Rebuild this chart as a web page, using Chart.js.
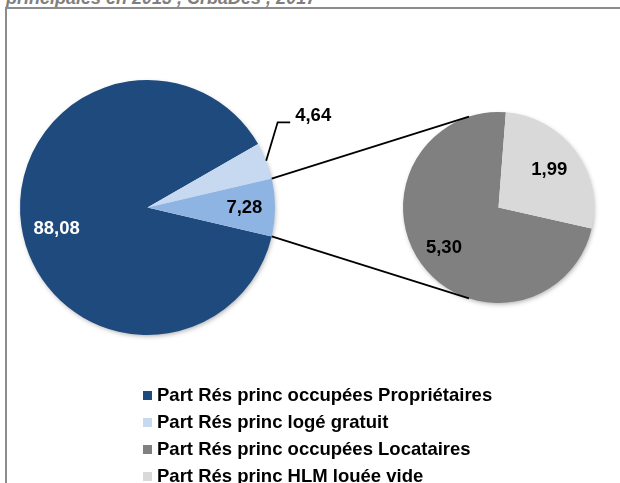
<!DOCTYPE html>
<html>
<head>
<meta charset="utf-8">
<script src="https://cdn.jsdelivr.net/npm/chart.js@4.4.1/dist/chart.umd.min.js"></script>
<style>
  body { margin: 0; background: #fff; overflow: hidden; }
  #wrap { position: relative; width: 620px; height: 483px; overflow: hidden; font-family: "Liberation Sans", Arial, sans-serif; }
  #titre { position: absolute; left: 6px; top: -11px; line-height: 18px; font-size: 18px; font-weight: bold; font-style: italic; color: #7f7f7f; white-space: nowrap; }
  #cadre { position: absolute; left: 5px; top: 7px; width: 700px; height: 600px; border-top: 2px solid #8c8c8c; border-left: 2px solid #8c8c8c; }
  canvas { position: absolute; left: 0; top: 0; }
  #legende { position: absolute; left: 143px; top: 381px; font-size: 18.5px; font-weight: bold; color: #000; }
  #legende div { height: 27px; line-height: 27px; white-space: nowrap; }
  #legende span { display: inline-block; width: 9px; height: 9px; margin-right: 5px; vertical-align: 1px; }
</style>
</head>
<body>
<div id="wrap">
  <div id="titre">principales en 2013 , CrbaDes , 2017</div>
  <div id="cadre"></div>
  <canvas id="pie1" width="620" height="483"></canvas>
  <canvas id="pie2" width="620" height="483"></canvas>
  <div id="legende"></div>
</div>
<script>
// camembert principal : propriétaires, logé gratuit, "autre" (locataires + HLM)
const mainLabels = ["Part Rés princ occupées Propriétaires", "Part Rés princ logé gratuit", "Autre"];
const mainValues = [88.08, 4.64, 7.28];
const mainColors = ["#1f4a7d", "#c6d9f1", "#8db4e2"];

// second camembert : détail de "autre"
const subLabels = ["Part Rés princ occupées Locataires", "Part Rés princ HLM louée vide"];
const subValues = [5.30, 1.99];
const subColors = ["#808080", "#d9d9d9"];

const legendLabels = [mainLabels[0], mainLabels[1], subLabels[0], subLabels[1]];
const legendColors = [mainColors[0], mainColors[1], subColors[0], subColors[1]];

// position des étiquettes (fraction du rayon, décalage px)
const mainLabelPos = [{ r: 0.72, dx: 0, dy: 8 }, null, { r: 0.76, dx: 0, dy: 0 }];
const subLabelPos = [{ r: 0.71, dx: 0, dy: 0 }, { r: 0.66, dx: 0, dy: 0 }];

const fmt = (v) => v.toFixed(2).replace(".", ",");

const legende = document.querySelector("#legende");
legendLabels.forEach((txt, i) => {
  const row = document.createElement("div");
  row.innerHTML = `<span style="background:${legendColors[i]}"></span>${txt}`;
  legende.appendChild(row);
});

// ombre légère sous chaque camembert
const ombre = {
  id: "ombre",
  beforeDatasetsDraw(chart) {
    const arc = chart.getDatasetMeta(0).data[0];
    const ctx = chart.ctx;
    ctx.save();
    ctx.shadowColor = "rgba(0,0,0,0.35)";
    ctx.shadowBlur = 5;
    ctx.shadowOffsetX = 1;
    ctx.shadowOffsetY = 2;
    ctx.fillStyle = "#fff";
    ctx.beginPath();
    ctx.arc(arc.x, arc.y, arc.outerRadius - 1, 0, Math.PI * 2);
    ctx.fill();
    ctx.restore();
  },
};

const drawLabels = (chart, values, pos, colors) => {
  const ctx = chart.ctx;
  ctx.save();
  ctx.font = "bold 18.5px 'Liberation Sans', Arial, sans-serif";
  ctx.textAlign = "center";
  ctx.textBaseline = "middle";
  chart.getDatasetMeta(0).data.forEach((arc, i) => {
    const p = pos[i];
    if (!p) return;
    const mid = (arc.startAngle + arc.endAngle) / 2;
    const x = arc.x + Math.cos(mid) * arc.outerRadius * p.r + p.dx;
    const y = arc.y + Math.sin(mid) * arc.outerRadius * p.r + p.dy;
    ctx.fillStyle = colors[i];
    ctx.fillText(fmt(values[i]), x, y);
  });
  ctx.restore();
};

const etiquettes1 = {
  id: "etiquettes1",
  afterDatasetsDraw(chart) {
    drawLabels(chart, mainValues, mainLabelPos, ["#fff", "#000", "#000"]);
    // étiquette extérieure avec ligne de rappel (logé gratuit)
    const arc = chart.getDatasetMeta(0).data[1];
    const mid = (arc.startAngle + arc.endAngle) / 2;
    const x0 = arc.x + Math.cos(mid) * arc.outerRadius;
    const y0 = arc.y + Math.sin(mid) * arc.outerRadius;
    const ctx = chart.ctx;
    ctx.save();
    ctx.strokeStyle = "#000";
    ctx.lineWidth = 1.8;
    ctx.beginPath();
    ctx.moveTo(x0, y0);
    ctx.lineTo(x0 + 11.5, y0 - 38.5);
    ctx.lineTo(x0 + 24, y0 - 38.5);
    ctx.stroke();
    ctx.font = "bold 18.5px 'Liberation Sans', Arial, sans-serif";
    ctx.textAlign = "left";
    ctx.textBaseline = "middle";
    ctx.fillStyle = "#000";
    ctx.fillText(fmt(mainValues[1]), x0 + 29, y0 - 45);
    ctx.restore();
  },
};

const otherShare = mainValues[2] / mainValues.reduce((a, b) => a + b, 0);

const chart1 = new Chart(document.querySelector("#pie1"), {
  type: "pie",
  data: {
    labels: mainLabels,
    datasets: [{ data: mainValues, backgroundColor: mainColors, borderWidth: 0 }],
  },
  options: {
    responsive: false,
    animation: false,
    rotation: 90 + (otherShare * 360) / 2,
    layout: { padding: { left: 20, top: 80, right: 345, bottom: 148 } },
    plugins: { legend: { display: false }, tooltip: { enabled: false } },
  },
  plugins: [ombre, etiquettes1],
});

// lignes de liaison entre le secteur "autre" et le second camembert
const liaisons = {
  id: "liaisons",
  afterDatasetsDraw(chart) {
    const src = chart1.getDatasetMeta(0).data[2];
    const dst = chart.getDatasetMeta(0).data[0];
    const ctx = chart.ctx;
    const a = (108 * Math.PI) / 180;
    ctx.save();
    ctx.strokeStyle = "#000";
    ctx.lineWidth = 1.8;
    ctx.beginPath();
    ctx.moveTo(src.x + Math.cos(src.startAngle) * src.outerRadius, src.y + Math.sin(src.startAngle) * src.outerRadius);
    ctx.lineTo(dst.x + Math.cos(-a) * dst.outerRadius, dst.y + Math.sin(-a) * dst.outerRadius);
    ctx.moveTo(src.x + Math.cos(src.endAngle) * src.outerRadius, src.y + Math.sin(src.endAngle) * src.outerRadius);
    ctx.lineTo(dst.x + Math.cos(a) * dst.outerRadius, dst.y + Math.sin(a) * dst.outerRadius);
    ctx.stroke();
    ctx.restore();
    drawLabels(chart, subValues, subLabelPos, ["#000", "#000"]);
  },
};

const chart2 = new Chart(document.querySelector("#pie2"), {
  type: "pie",
  data: {
    labels: subLabels,
    datasets: [{ data: subValues, backgroundColor: subColors, borderWidth: 0 }],
  },
  options: {
    responsive: false,
    animation: false,
    rotation: 102.7,
    layout: { padding: { left: 403, top: 112, right: 26, bottom: 180 } },
    plugins: { legend: { display: false }, tooltip: { enabled: false } },
  },
  plugins: [ombre, liaisons],
});
</script>
</body>
</html>
